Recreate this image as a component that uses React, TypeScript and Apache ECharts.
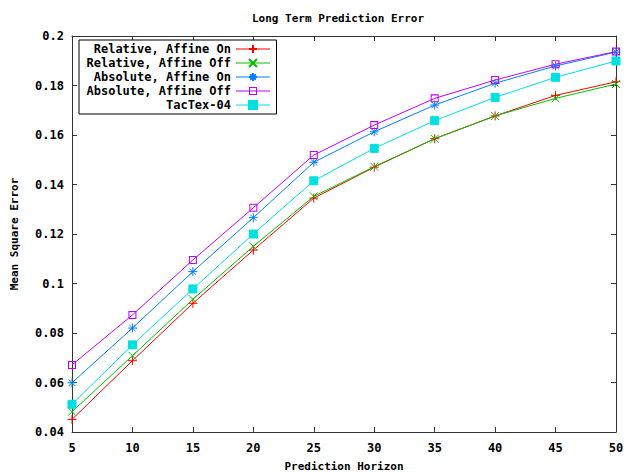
import React, { useEffect, useRef } from "react";
import * as echarts from "echarts";

const horizons = [5, 10, 15, 20, 25, 30, 35, 40, 45, 50];
const relativeAffineOn = [0.0451, 0.0688, 0.092, 0.1135, 0.1345, 0.147, 0.1585, 0.1677, 0.176, 0.1815];
const relativeAffineOff = [0.0482, 0.0708, 0.0936, 0.115, 0.1352, 0.1472, 0.1585, 0.1677, 0.1748, 0.1806];
const absoluteAffineOn = [0.0599, 0.082, 0.1048, 0.1266, 0.149, 0.1613, 0.1721, 0.1809, 0.1879, 0.1935];
const absoluteAffineOff = [0.0671, 0.0873, 0.1095, 0.1306, 0.1519, 0.164, 0.1748, 0.1822, 0.1886, 0.1937];
const tacTex04 = [0.0512, 0.0752, 0.0978, 0.12, 0.1415, 0.1546, 0.1658, 0.1752, 0.1833, 0.1899];

const FONT = "DejaVu Sans Mono";

const PLUS = "path://M5,0L5,10M0,5L10,5";
const CROSS = "path://M0,0L10,10M0,10L10,0";
const STAR = "path://M5,0L5,10M0,5L10,5M1.5,1.5L8.5,8.5M1.5,8.5L8.5,1.5";
const BOX = "path://M0,0L10,0L10,10L0,10ZM1.3,1.3L1.3,8.7L8.7,8.7L8.7,1.3Z";

function pairs(vals: number[]) {
  return horizons.map((h, i) => [h, vals[i]]);
}

export default function App() {
  const ref = useRef<HTMLDivElement>(null);
  useEffect(() => {
    if (!ref.current) return;
    const chart = echarts.init(ref.current, undefined, { renderer: "svg" });
    const mk = (name: string, vals: number[], color: string, symbol: string, size: number, bw: number) => ({
      name,
      type: "line",
      data: pairs(vals),
      symbol,
      symbolSize: size,
      showAllSymbol: true,
      lineStyle: { color, width: 1 },
      itemStyle: { color, borderColor: color, borderWidth: bw },
      emphasis: { disabled: true },
      z: 3,
    });
    const axisCommon = {
      axisLine: { show: true, onZero: false, lineStyle: { color: "#333", width: 1 } },
      axisTick: { show: true, inside: true, length: 5, lineStyle: { color: "#333" } },
      splitLine: { show: false },
    };
    chart.setOption({
      animation: false,
      backgroundColor: "#fff",
      title: {
        text: "Long Term Prediction Error",
        left: 333,
        textAlign: "center",
        top: 8,
        textStyle: { fontFamily: FONT, fontSize: 11, fontWeight: "bold", color: "#000" },
      },
      grid: { left: 72, right: 11, top: 36, bottom: 41, show: false, outerBoundsMode: "none", containLabel: false },
      legend: {
        left: 79,
        top: 40,
        orient: "vertical",
        align: "right",
        itemWidth: 34,
        itemHeight: 10,
        itemGap: 0,
        padding: [2, 6, 2, 2],
        borderColor: "#000",
        borderWidth: 1,
        backgroundColor: "#fff",
        lineStyle: { width: 1 },
        textStyle: {
          fontFamily: FONT,
          fontSize: 12,
          fontWeight: "bold",
          color: "#000",
          width: 150,
          align: "right",
          lineHeight: 14,
        },
        data: [
          "Relative, Affine On",
          "Relative, Affine Off",
          "Absolute, Affine On",
          "Absolute, Affine Off",
          "TacTex-04",
        ],
      },
      xAxis: [
        {
          type: "value",
          position: "bottom",
          min: 5,
          max: 50,
          interval: 5,
          name: "Prediction Horizon",
          nameLocation: "middle",
          nameGap: 29,
          nameTextStyle: { fontFamily: FONT, fontSize: 11, fontWeight: "bold", color: "#000" },
          axisLabel: { fontFamily: FONT, fontSize: 12, fontWeight: "bold", color: "#000", margin: 10 },
          ...axisCommon,
        },
        {
          type: "value",
          position: "top",
          min: 5,
          max: 50,
          interval: 5,
          axisLabel: { show: false },
          ...axisCommon,
        },
      ],
      yAxis: [
        {
          type: "value",
          position: "left",
          min: 0.04,
          max: 0.2,
          interval: 0.02,
          name: "Mean Square Error",
          nameLocation: "middle",
          nameGap: 52,
          nameTextStyle: { fontFamily: FONT, fontSize: 11, fontWeight: "bold", color: "#000" },
          axisLabel: {
            fontFamily: FONT,
            fontSize: 12,
            fontWeight: "bold",
            color: "#000",
            margin: 8,
            formatter: (v: number) => String(+v.toFixed(2)),
          },
          ...axisCommon,
        },
        {
          type: "value",
          position: "right",
          min: 0.04,
          max: 0.2,
          interval: 0.02,
          axisLabel: { show: false },
          ...axisCommon,
        },
      ],
      series: [
        mk("Relative, Affine On", relativeAffineOn, "#ff0000", PLUS, 9, 1),
        mk("Relative, Affine Off", relativeAffineOff, "#00c000", CROSS, 8, 1),
        mk("Absolute, Affine On", absoluteAffineOn, "#0080ff", STAR, 9, 1),
        mk("Absolute, Affine Off", absoluteAffineOff, "#c000ff", BOX, 8, 0),
        mk("TacTex-04", tacTex04, "#00e0e0", "rect", 8, 1),
      ],
    });
    return () => chart.dispose();
  }, []);
  return <div ref={ref} style={{ width: 627, height: 473, position: "absolute", left: 0, top: 0 }} />;
}
